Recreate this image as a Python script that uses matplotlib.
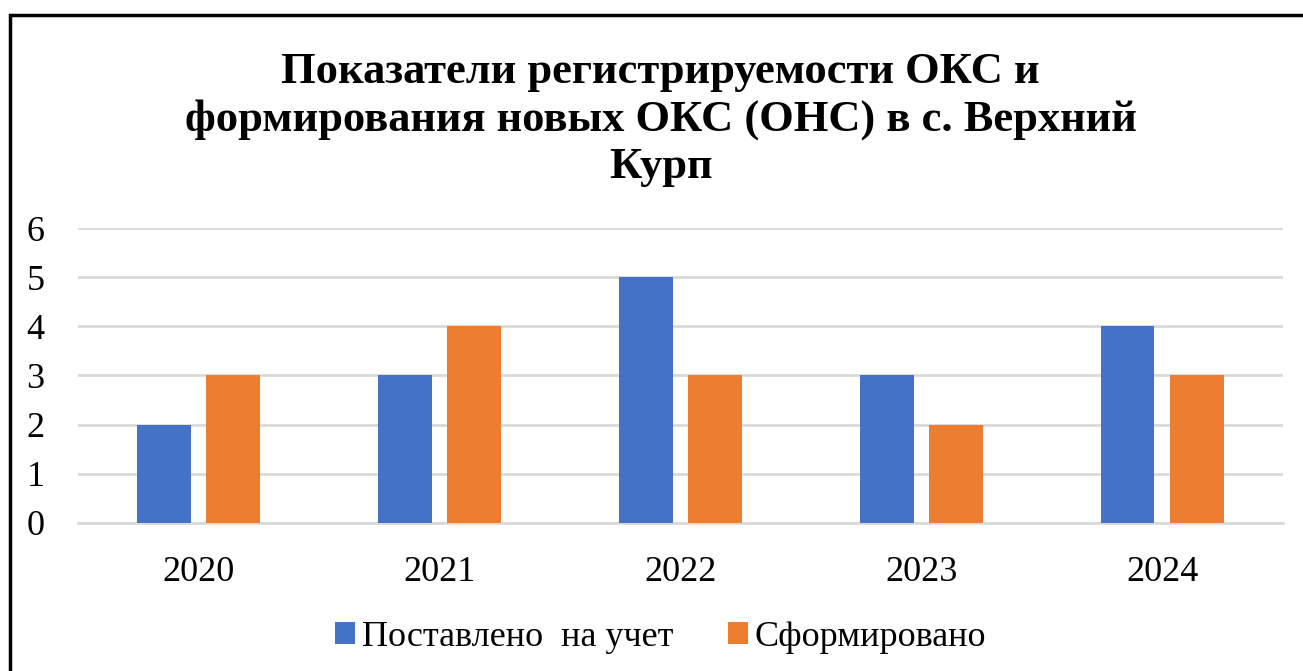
import numpy as np
import matplotlib
matplotlib.use('Agg')
import matplotlib.pyplot as plt
from matplotlib.patches import Rectangle

plt.rcParams['font.family'] = ['Liberation Serif', 'DejaVu Serif']

years = ['2020', '2021', '2022', '2023', '2024']
registered = [2, 3, 5, 3, 4]
formed = [3, 4, 3, 2, 3]
series_names = ['Поставлено  на учет', 'Сформировано']
title = 'Показатели регистрируемости ОКС и\nформирования новых ОКС (ОНС) в с. Верхний\nКурп'

BLUE = '#4472C4'
ORANGE = '#ED7D31'
GRID = '#D9D9D9'

fig = plt.figure(figsize=(13.03, 6.71), dpi=100)
ax = fig.add_axes([0.0599, 0.2206, 0.9247, 0.4396])

x = np.arange(len(years))
width = 0.224
offset = 0.145
ax.bar(x - offset, registered, width, color=BLUE, label=series_names[0], zorder=3)
ax.bar(x + offset, formed, width, color=ORANGE, label=series_names[1], zorder=3)

ax.set_xlim(-0.5, len(years) - 0.5)
ax.set_ylim(0, 6)
ax.set_yticks(range(0, 7))
ax.set_xticks(x)
ax.set_xticklabels(years)
ax.tick_params(axis='both', length=0, labelsize=26, colors='black')
ax.tick_params(axis='y', pad=24)
ax.tick_params(axis='x', pad=24)
ax.grid(axis='y', color=GRID, linewidth=2, zorder=0)
for s in ['top', 'right', 'left']:
    ax.spines[s].set_visible(False)
ax.spines['bottom'].set_color(GRID)
ax.spines['bottom'].set_linewidth(2)

fig.text(0.507, 0.922, title, ha='center', va='top', fontsize=32,
         fontweight='bold', linespacing=1.22)

ax.legend(loc='center', bbox_to_anchor=(0.507, 0.05), bbox_transform=fig.transFigure,
          ncol=2, frameon=False, fontsize=26, handlelength=0.55, handleheight=0.55,
          handletextpad=0.2, columnspacing=1.5)

# outer frame of the chart object
fig.patches.append(Rectangle((10 / 1303, -0.1), 1.2, 0.1 + 1 - 15 / 671,
                             transform=fig.transFigure, fill=False,
                             edgecolor='black', linewidth=2.5))

fig.savefig('out.png', dpi=100)
